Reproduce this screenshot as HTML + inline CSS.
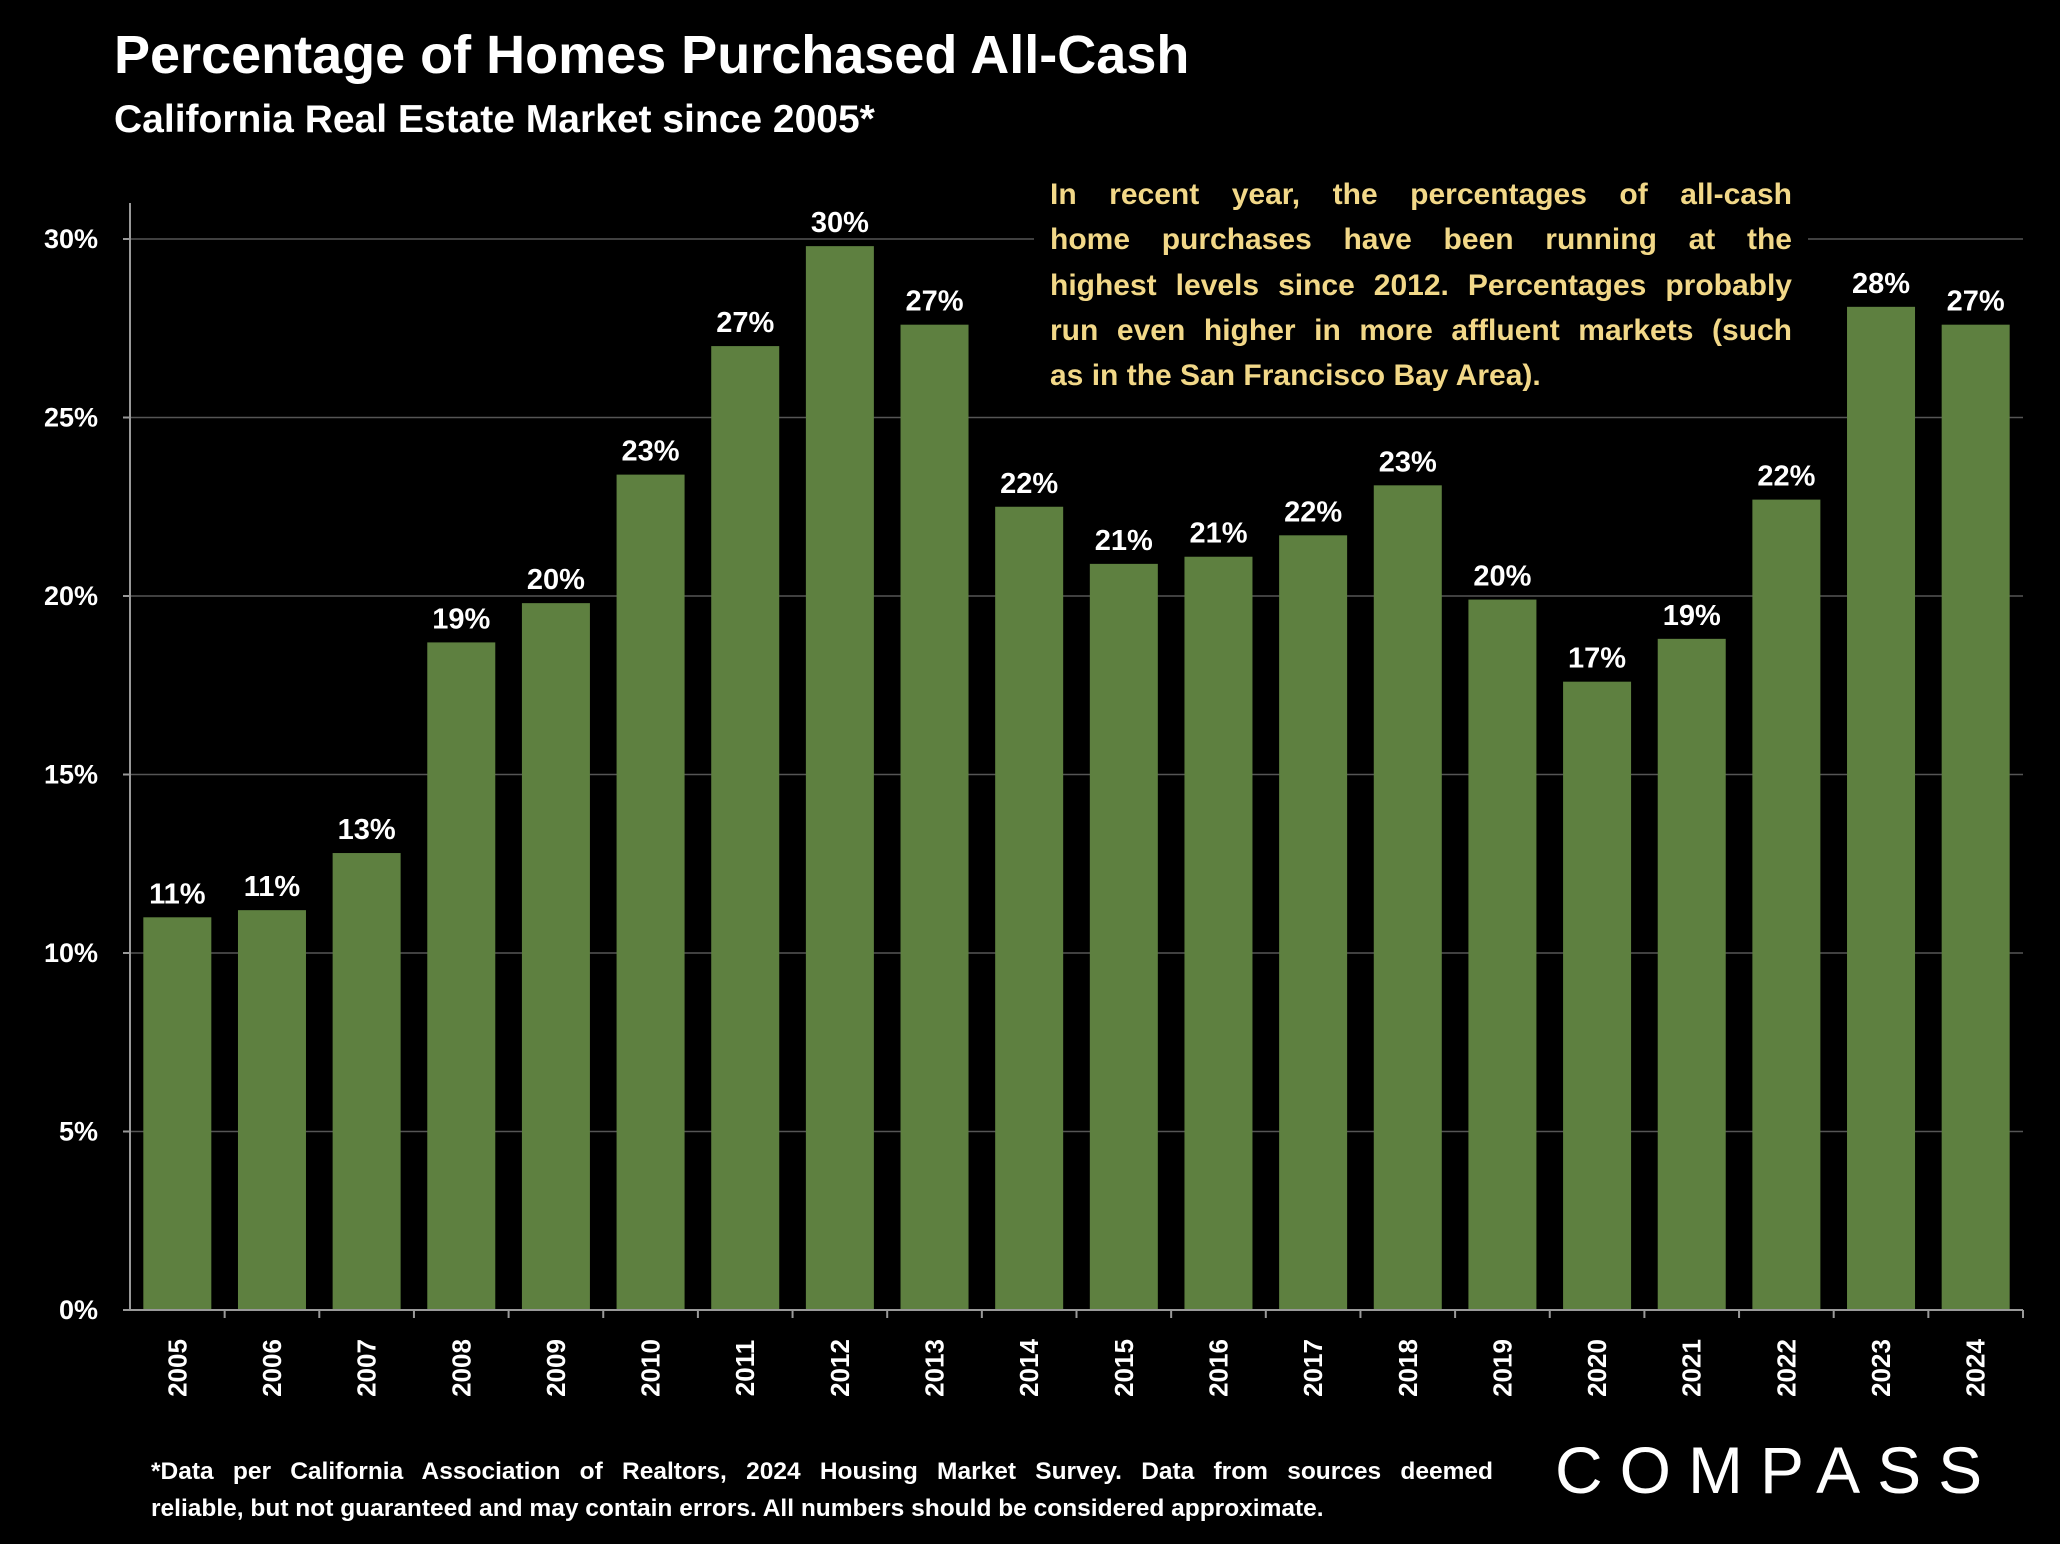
<!DOCTYPE html>
<html><head><meta charset="utf-8">
<style>
html,body{margin:0;padding:0;background:#000;}
body{width:2060px;height:1544px;position:relative;overflow:hidden;font-family:"Liberation Sans",sans-serif;color:#fff;}
#title{position:absolute;left:114px;top:24px;font-size:54px;font-weight:bold;}
#subtitle{position:absolute;left:114px;top:98px;font-size:39px;font-weight:bold;}
#note{position:absolute;left:1034px;top:172px;width:742px;padding:0 16px;background:#000;color:#f2d888;font-size:30px;font-weight:bold;line-height:45.3px;}
.jl{text-align:justify;text-align-last:justify;white-space:nowrap;}
.ll{text-align:left;}
#foot{position:absolute;left:151px;top:1453px;width:1342px;font-size:24.5px;font-weight:bold;line-height:37px;}
#logo{position:absolute;left:1555px;top:1432px;font-size:66px;letter-spacing:17px;font-weight:normal;}
</style></head><body>
<div id="title">Percentage of Homes Purchased All-Cash</div>
<div id="subtitle">California Real Estate Market since 2005*</div>
<svg id="chart" width="2060" height="1544" style="position:absolute;left:0;top:0"></svg>
<div id="note">
<div class="jl">In recent year, the percentages of all-cash</div>
<div class="jl">home purchases have been running at the</div>
<div class="jl">highest levels since 2012. Percentages probably</div>
<div class="jl">run even higher in more affluent markets (such</div>
<div class="ll">as in the San Francisco Bay Area).</div>
</div>
<div id="foot">
<div class="jl">*Data per California Association of Realtors, 2024 Housing Market Survey. Data from sources deemed</div>
<div class="ll">reliable, but not guaranteed and may contain errors. All numbers should be considered approximate.</div>
</div>
<div id="logo">COMPASS</div>
<script>
const years=["2005","2006","2007","2008","2009","2010","2011","2012","2013","2014","2015","2016","2017","2018","2019","2020","2021","2022","2023","2024"];
const values=[11.0,11.2,12.8,18.7,19.8,23.4,27.0,29.8,27.6,22.5,20.9,21.1,21.7,23.1,19.9,17.6,18.8,22.7,28.1,27.6];
const labels=["11%","11%","13%","19%","20%","23%","27%","30%","27%","22%","21%","21%","22%","23%","20%","17%","19%","22%","28%","27%"];
const ticks=[0,5,10,15,20,25,30];
const tickLabels=["0%","5%","10%","15%","20%","25%","30%"];
const NS="http://www.w3.org/2000/svg";
const svg=document.getElementById('chart');
const x0=130,x1=2023,y0=1310,yTop=239;
const y=v=>y0-(y0-yTop)*v/30;
const step=(x1-x0)/years.length;
const xc=i=>x0+step*(i+0.5);
function mk(t,a){const e=document.createElementNS(NS,t);for(const k in a)e.setAttribute(k,a[k]);svg.appendChild(e);return e;}
ticks.forEach((t,i)=>{
  if(t>0){const g=mk('line',{x1:x0,x2:x1,y1:y(t),y2:y(t),stroke:'#555','stroke-width':1.5});
  
  }
  const l=mk('text',{x:98,y:y(t)+9,'text-anchor':'end',fill:'#fff','font-size':27,'font-weight':'bold','font-family':'Liberation Sans, sans-serif'});
  l.textContent=tickLabels[i];
  
  
  const tk=mk('line',{x1:x0-7,x2:x0,y1:y(t),y2:y(t),stroke:'#999','stroke-width':2});
  
  
});
values.forEach((v,i)=>{
  const bw=68;
  const b=mk('rect',{x:xc(i)-bw/2,y:y(v),width:bw,height:y0-y(v),fill:'#5e8040'});
  
  
  const t=mk('text',{x:xc(i),y:y(v)-14,'text-anchor':'middle',fill:'#fff','font-size':29,'font-weight':'bold','font-family':'Liberation Sans, sans-serif'});
  t.textContent=labels[i];
  
  
  const yl=mk('text',{x:0,y:0,transform:`translate(${xc(i)+9},1368) rotate(-90)`,'text-anchor':'middle',fill:'#fff','font-size':26,'font-weight':'bold','font-family':'Liberation Sans, sans-serif'});
  yl.textContent=years[i];
  
  
  const tk=mk('line',{x1:x0+step*(i+1),x2:x0+step*(i+1),y1:y0,y2:y0+8,stroke:'#999','stroke-width':2});
  
  
});
const ya=mk('line',{x1:x0,x2:x0,y1:203,y2:y0,stroke:'#999','stroke-width':2});


const xa=mk('line',{x1:x0,x2:x1,y1:y0,y2:y0,stroke:'#999','stroke-width':2});


</script>
</body></html>
